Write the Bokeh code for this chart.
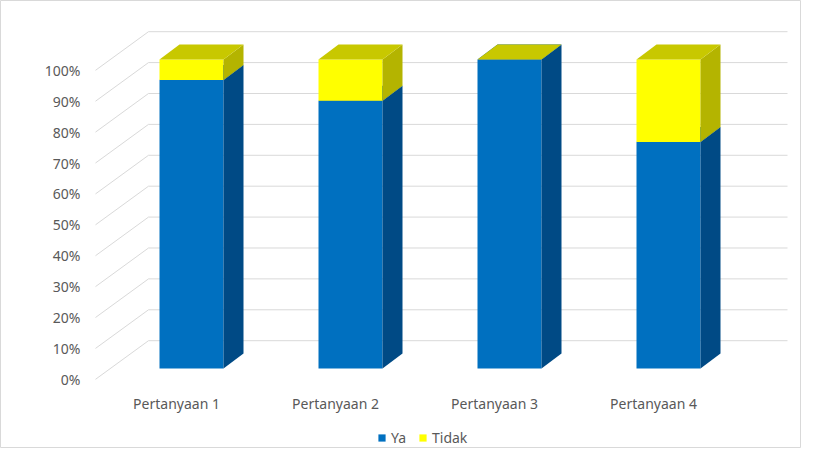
from bokeh.plotting import figure
from bokeh.models import Range1d, Legend, LegendItem, ColumnDataSource
from bokeh.core.properties import value
from bokeh.embed import file_html
from bokeh.resources import INLINE

# ---------------- data ----------------
categories = ["Pertanyaan 1", "Pertanyaan 2", "Pertanyaan 3", "Pertanyaan 4"]
ya = [93.33, 86.67, 100.0, 73.33]
tidak = [6.67, 13.33, 0.0, 26.67]
y_ticks = [0, 10, 20, 30, 40, 50, 60, 70, 80, 90, 100]
y_tick_labels = ["0%", "10%", "20%", "30%", "40%", "50%", "60%", "70%", "80%", "90%", "100%"]
series_names = ["Ya", "Tidak"]

# ---------------- geometry (canvas pixels -> data) ----------------
W, H = 801, 448
X0, XS = 191.0, 159.0   # x of first bar front centre, px per category
Y0, YS = 368.0, 3.09    # y of 0% on bar front plane, px per percent


def px2x(px):
    return (px - X0) / XS


def py2y(py):
    return (Y0 - py) / YS


BW = 64 / XS          # bar width
DX = 20 / XS          # depth offset x
DY = 15 / YS          # depth offset y
BACK_DY = 9.0         # back wall offset (percent units)
LBL_DY = -3.5         # tick label plane offset
XL, XB0, XB1 = px2x(95), px2x(148), px2x(787)

FONT = "Noto Sans"
TXT = "#595959"
GRID = "#d9d9d9"
front_col = {"Ya": "#0070C0", "Tidak": "#FFFF00"}
side_col = {"Ya": "#004A85", "Tidak": "#B4B400"}
top_col = {"Ya": "#005A9E", "Tidak": "#C8C800"}

p = figure(width=W, height=H, output_backend="svg", toolbar_location=None,
           x_range=Range1d(px2x(0), px2x(W)),
           y_range=Range1d(py2y(H), py2y(0)),
           min_border=0)
p.xaxis.visible = False
p.yaxis.visible = False
p.xgrid.visible = False
p.ygrid.visible = False
p.outline_line_color = GRID
p.outline_line_width = 1
p.background_fill_color = "white"
p.border_fill_color = "white"

# back wall gridlines and side-wall diagonals
p.multi_line(xs=[[XB0, XB1] for v in y_ticks],
             ys=[[v + BACK_DY, v + BACK_DY] for v in y_ticks],
             line_color=GRID, line_width=1)
p.multi_line(xs=[[XL, XB0] for v in y_ticks],
             ys=[[v + LBL_DY, v + BACK_DY] for v in y_ticks],
             line_color=GRID, line_width=1)

# y tick labels
p.text(x=[px2x(80)] * len(y_ticks), y=[v + LBL_DY for v in y_ticks], text=y_tick_labels,
       text_align="right", text_baseline="middle", text_font=value(FONT),
       text_font_size="14px", text_color=TXT)

# category labels
p.text(x=[i - 15 / XS for i in range(len(categories))],
       y=[py2y(403)] * len(categories), text=categories,
       text_align="center", text_baseline="middle", text_font=value(FONT),
       text_font_size="14px", text_color=TXT)

# 3D stacked bars
legend_items = []
bottoms = [0.0] * len(categories)
for name, vals in zip(series_names, [ya, tidak]):
    xs = list(range(len(categories)))
    bots = list(bottoms)
    tops = [b + v for b, v in zip(bots, vals)]
    src = ColumnDataSource(dict(x=xs, bottom=bots, top=tops))
    fr = p.vbar(x="x", width=BW, bottom="bottom", top="top", source=src,
                fill_color=front_col[name], line_color=None)
    side_xs, side_ys, top_xs, top_ys = [], [], [], []
    for i, b, t in zip(xs, bots, tops):
        l, r = i - BW / 2, i + BW / 2
        side_xs.append([r, r + DX, r + DX, r])
        side_ys.append([b, b + DY, t + DY, t])
        top_xs.append([l, r, r + DX, l + DX])
        top_ys.append([t, t, t + DY, t + DY])
    p.patches(xs=side_xs, ys=side_ys, fill_color=side_col[name], line_color=None)
    p.patches(xs=top_xs, ys=top_ys, fill_color=top_col[name], line_color=None)
    legend_items.append(LegendItem(label=name, renderers=[fr]))
    bottoms = tops

legend = Legend(items=legend_items, orientation="horizontal", location=(377, 1),
                padding=0, margin=0, spacing=7, glyph_width=9, glyph_height=9,
                label_standoff=5, label_height=14,
                label_text_font=FONT, label_text_font_size="14px",
                label_text_color=TXT, border_line_color=None,
                background_fill_alpha=0)
p.add_layout(legend, "center")

open("out.html", "w").write(file_html(p, INLINE))
